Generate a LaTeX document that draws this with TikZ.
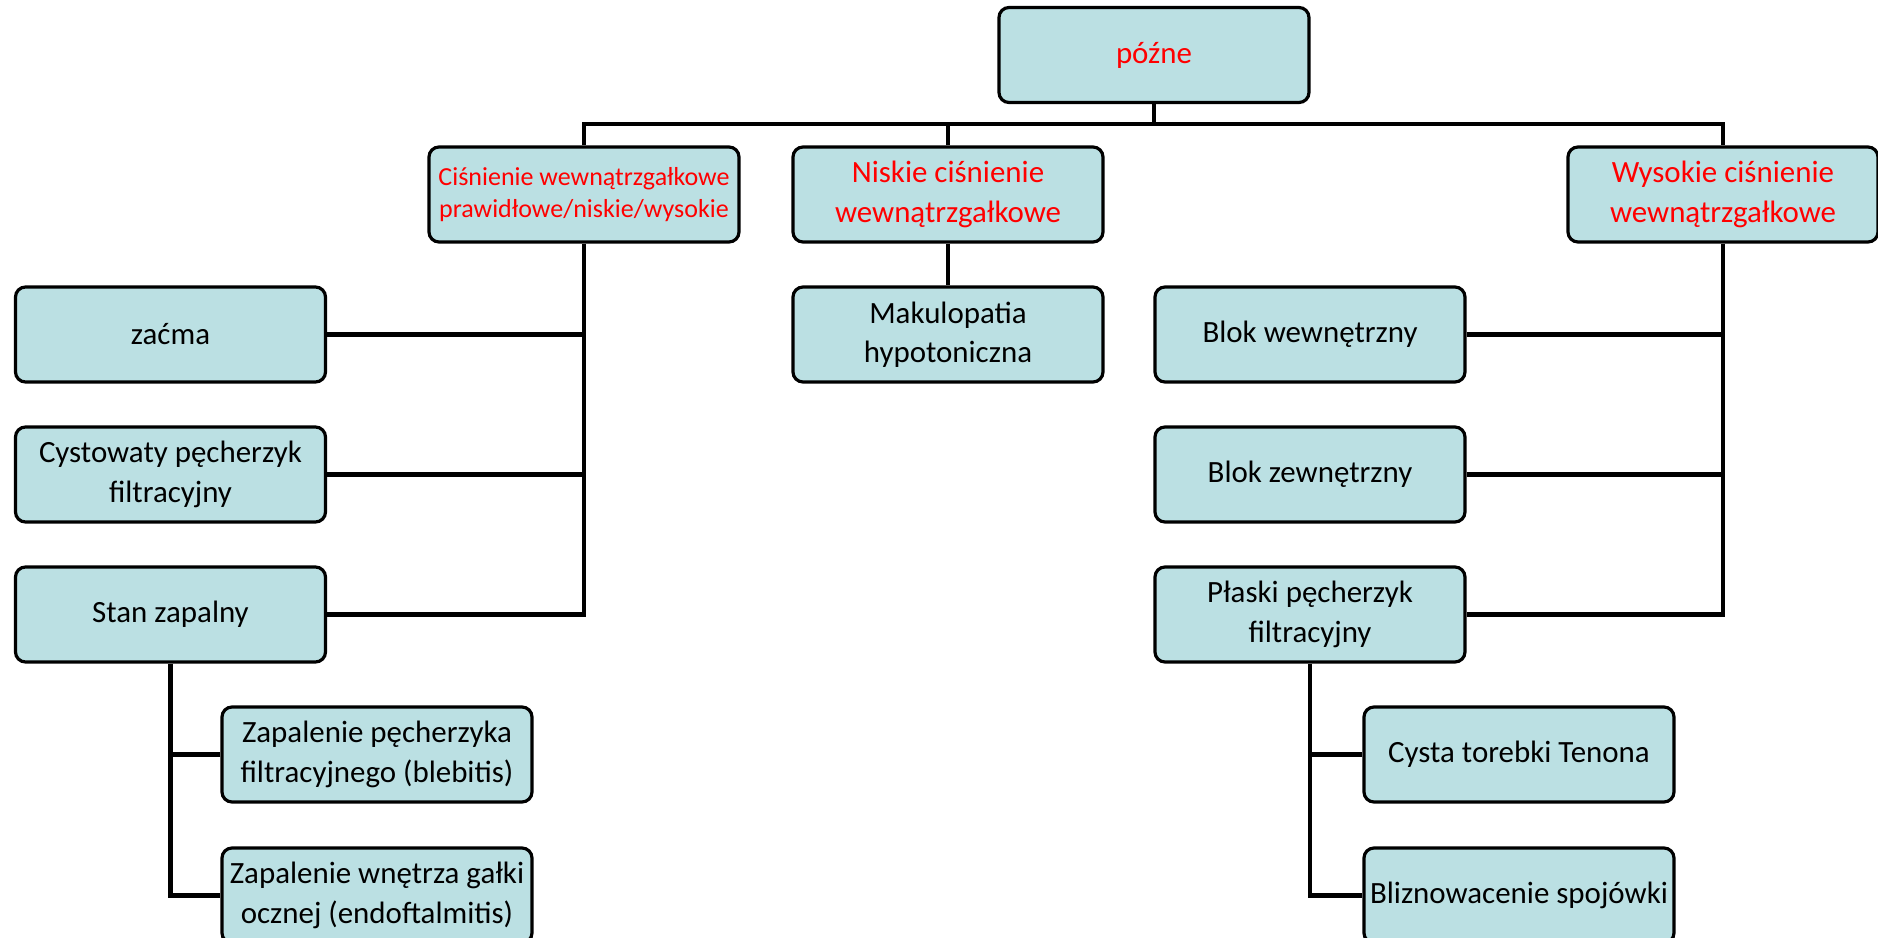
\documentclass[tikz,border=0pt]{standalone}
\usepackage{fontspec}
\setmainfont{Carlito}
\usetikzlibrary{positioning}

\begin{document}
\begin{tikzpicture}[
    box/.style={draw=black,line width=0.9pt,fill=BoxFill,rounded corners=0.1cm,
      minimum width=3.1cm,minimum height=0.95cm,inner sep=0pt,align=center,
      font=\fontsize{8.8}{11.2}\selectfont},
    redbox/.style={box,text=red},
    link/.style={line width=1.4pt}]
  %--- Theme colors ---
  \definecolor{BoxFill}{HTML}{BBE0E3}   % light teal box fill

  \useasboundingbox (0,0) rectangle (18.78,-9.38);

  %--- Top level ---
  \node[redbox] (late) at (11.54,-0.55) {późne};
  \coordinate (bus) at (0,-1.24);

  %--- Second level (red) ---
  \node[redbox,font=\fontsize{7.4}{9.3}\selectfont] (normal) at (5.84,-1.945)
    {Ciśnienie wewnątrzgałkowe\\prawidłowe/niskie/wysokie};
  \node[redbox] (low)  at (9.48,-1.945)  {Niskie ciśnienie\\wewnątrzgałkowe};
  \node[redbox] (high) at (17.23,-1.945) {Wysokie ciśnienie\\wewnątrzgałkowe};

  %--- Left branch ---
  \node[box] (cataract) at (1.705,-3.345) {zaćma};
  \node[box] (cyst)     at (1.705,-4.745) {Cystowaty pęcherzyk\\filtracyjny};
  \node[box] (inflam)   at (1.705,-6.145) {Stan zapalny};
  \node[box] (blebitis) at (3.77,-7.545)  {Zapalenie pęcherzyka\\filtracyjnego (blebitis)};
  \node[box] (endoph)   at (3.77,-8.955)  {Zapalenie wnętrza gałki\\ocznej (endoftalmitis)};

  %--- Middle branch ---
  \node[box] (macula) at (9.48,-3.345) {Makulopatia\\hypotoniczna};

  %--- Right branch ---
  \node[box] (inner) at (13.10,-3.345) {Blok wewnętrzny};
  \node[box] (outer) at (13.10,-4.745) {Blok zewnętrzny};
  \node[box] (flat)  at (13.10,-6.145) {Płaski pęcherzyk\\filtracyjny};
  \node[box] (tenon) at (15.19,-7.545) {Cysta torebki Tenona};
  \node[box] (scar)  at (15.19,-8.955) {Bliznowacenie spojówki};

  %--- Connectors ---
  \draw[link] (late.south) -- (late.south |- bus);
  \draw[link] (normal.north) |- (high.north |- bus) -- (high.north);
  \draw[link] (low.north) -- (low.north |- bus);
  \draw[link] (low.south) -- (macula.north);

  \draw[link] (normal.south) |- (inflam.east);
  \draw[link] (cataract.east) -- (cataract.east -| normal.south);
  \draw[link] (cyst.east) -- (cyst.east -| normal.south);
  \draw[link] (inflam.south) |- (endoph.west);
  \draw[link] (blebitis.west) -- (blebitis.west -| inflam.south);

  \draw[link] (high.south) |- (flat.east);
  \draw[link] (inner.east) -- (inner.east -| high.south);
  \draw[link] (outer.east) -- (outer.east -| high.south);
  \draw[link] (flat.south) |- (scar.west);
  \draw[link] (tenon.west) -- (tenon.west -| flat.south);
\end{tikzpicture}
\end{document}
